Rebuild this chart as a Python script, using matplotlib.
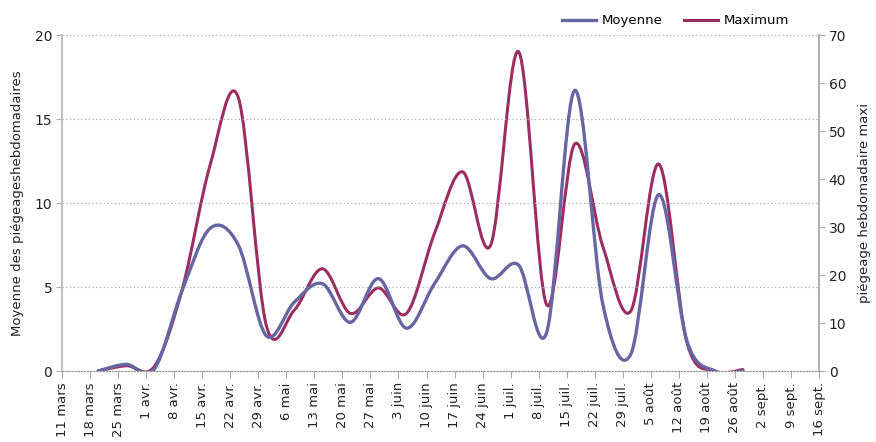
import matplotlib
matplotlib.use("Agg")
import matplotlib.pyplot as plt
from matplotlib.path import Path
from matplotlib.patches import PathPatch
from matplotlib.lines import Line2D

# ─────────────────────────────────────────────
# weekly tick labels (Mondays) and weekly trap readings (2 days later)
tick_labels = ["11 mars", "18 mars", "25 mars", "1 avr.", "8 avr.", "15 avr.",
               "22 avr.", "29 avr.", "6 mai", "13 mai", "20 mai", "27 mai",
               "3 juin", "10 juin", "17 juin", "24 juin", "1 juil.", "8 juil.",
               "15 juil.", "22 juil.", "29 juil.", "5 août", "12 août",
               "19 août", "26 août", "2 sept.", "9 sept.", "16 sept."]
tick_days = [7 * i for i in range(len(tick_labels))]

# sampling days, counted from 11 mars
sample_days = [9, 16, 23, 30, 37, 44, 51, 58, 65, 72, 79, 86, 93, 100, 107,
               114, 121, 128, 135, 142, 149, 156, 163, 170]

moyenne = [0, 0.4, 0.1, 4.8, 8.5, 7.5, 2.1, 4.1, 5.2, 2.9, 5.5, 2.55, 5.2,
           7.45, 5.5, 6.3, 2.3, 16.7, 4.0, 1.0, 10.5, 1.8, 0, 0]
maximum = [0, 1.1, 0.9, 17, 43, 57, 9.5, 12.7, 21.3, 12, 17.3, 12, 28.7,
           41.5, 26.2, 66.5, 13.8, 47.3, 26, 12.5, 43.1, 6, 0, 0.3]

BLUE = "#6666a3"
RED = "#9c2d62"


def smooth_path(xs, ys):
    """Excel-like smoothed line: Catmull-Rom segments as cubic Beziers."""
    pts = list(zip(xs, ys))
    n = len(pts)
    verts = [pts[0]]
    codes = [Path.MOVETO]
    for i in range(n - 1):
        p0 = pts[i - 1] if i > 0 else pts[i]
        p1 = pts[i]
        p2 = pts[i + 1]
        p3 = pts[i + 2] if i + 2 < n else pts[i + 1]
        c1 = (p1[0] + (p2[0] - p0[0]) / 6, p1[1] + (p2[1] - p0[1]) / 6)
        c2 = (p2[0] - (p3[0] - p1[0]) / 6, p2[1] - (p3[1] - p1[1]) / 6)
        verts += [c1, c2, p2]
        codes += [Path.CURVE4] * 3
    return Path(verts, codes)


fig = plt.figure(figsize=(8.76, 4.42), dpi=100)
ax = fig.add_axes([0.0708, 0.1606, 0.8642, 0.7602])
ax2 = ax.twinx()

ax2.add_patch(PathPatch(smooth_path(sample_days, maximum), fill=False,
                        edgecolor=RED, lw=2.2, capstyle="round"))
ax.add_patch(PathPatch(smooth_path(sample_days, moyenne), fill=False,
                       edgecolor=BLUE, lw=2.4, capstyle="round"))

# keep the Moyenne line above the Maximum line
ax.set_zorder(ax2.get_zorder() + 1)
ax.patch.set_visible(False)

ax.set_xlim(tick_days[0], tick_days[-1])
ax.set_ylim(0, 20)
ax2.set_ylim(0, 70)
ax.set_yticks([0, 5, 10, 15, 20])
ax2.set_yticks(range(0, 71, 10))
ax.set_xticks(tick_days)
ax.set_xticklabels(tick_labels, rotation=90, fontsize=9.5, color="#222222")

ax.yaxis.grid(True, linestyle=(0, (1, 2)), color="#aaaaaa", lw=0.9)
ax.set_axisbelow(True)

for a in (ax, ax2):
    a.spines["top"].set_visible(False)
ax.spines["right"].set_visible(False)
ax2.spines["left"].set_visible(False)
ax2.spines["bottom"].set_visible(False)
ax.spines["left"].set_color("#c0c0c0")
ax.spines["left"].set_linewidth(1.5)
ax2.spines["right"].set_color("#a0a0a0")
ax2.spines["right"].set_linewidth(1.2)
ax.spines["bottom"].set_color("#999999")
ax.spines["bottom"].set_linestyle((0, (1, 1.5)))
ax.spines["bottom"].set_linewidth(0.9)

ax.tick_params(axis="y", length=4, color="#aaaaaa", labelsize=10,
               labelcolor="#222222", pad=3)
ax2.tick_params(axis="y", length=4, color="#aaaaaa", labelsize=10,
                labelcolor="#222222", pad=3)
ax.tick_params(axis="x", length=5, color="#aaaaaa", pad=3)

ax.set_ylabel("Moyenne des piégeageshebdomadaires", fontsize=9.5,
              color="#222222", labelpad=8)
ax2.set_ylabel("piégeage hebdomadaire maxi", fontsize=9.5,
               color="#222222", labelpad=8)

handles = [Line2D([], [], color=BLUE, lw=2.4),
           Line2D([], [], color=RED, lw=2.2)]
fig.legend(handles, ["Moyenne", "Maximum"], loc="center",
           bbox_to_anchor=(0.771, 0.953), ncol=2, frameon=False,
           fontsize=9.5, handlelength=2.6, columnspacing=1.6,
           handletextpad=0.4)

fig.savefig("out.png", dpi=100)
